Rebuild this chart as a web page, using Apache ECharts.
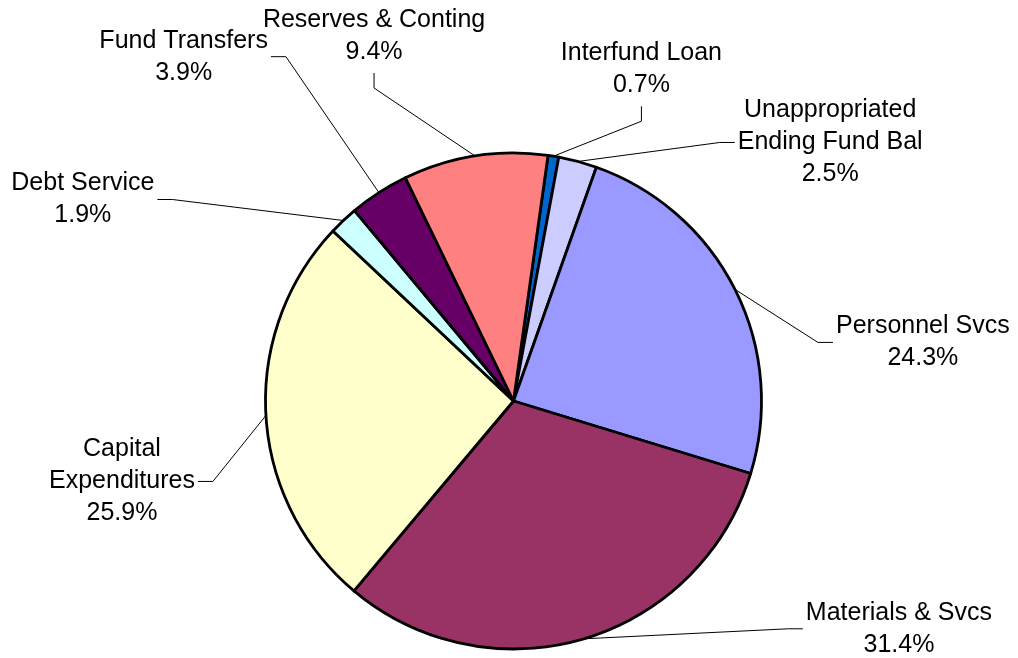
<!DOCTYPE html>
<html>
<head>
<meta charset="utf-8">
<script src="https://cdn.jsdelivr.net/npm/echarts@6/dist/echarts.min.js"></script>
<style>
html, body { margin: 0; padding: 0; background: #fff; }
#chart { width: 1018px; height: 658px; }
</style>
</head>
<body>
<div id="chart"></div>
<script>
// ---- data ----
var categories = [
  'Interfund Loan',
  'Unappropriated\nEnding Fund Bal',
  'Personnel Svcs',
  'Materials & Svcs',
  'Capital\nExpenditures',
  'Debt Service',
  'Fund Transfers',
  'Reserves & Conting'
];
var values = [0.7, 2.5, 24.3, 31.4, 25.9, 1.9, 3.9, 9.4];
var colors = ['#0066CC', '#CCCCFF', '#9999FF', '#993366', '#FFFFCC', '#CCFFFF', '#660066', '#FF8080'];

// ---- label placement (leader bend offset from slice arc midpoint, attach side) ----
var labelSpec = [
  { bend: [88, -35], side: 'up' },
  { bend: [142, -19], side: 'right' },
  { bend: [83, 53], side: 'right' },
  { bend: [204, -10], side: 'right' },
  { bend: [-53, 66], side: 'left' },
  { bend: [-171, -21], side: 'left' },
  { bend: [-93, -136], side: 'left' },
  { bend: [-101, -68], side: 'up' }
];
var SEG = 15;

var chart = echarts.init(document.getElementById('chart'), null, { renderer: 'canvas' });

var data = categories.map(function (c, i) {
  return { name: c, value: values[i], itemStyle: { color: colors[i] } };
});

chart.setOption({
  animation: false,
  backgroundColor: '#ffffff',
  series: [{
    type: 'pie',
    center: [513.5, 401],
    radius: [0, 248],
    startAngle: 82,
    clockwise: true,
    avoidLabelOverlap: false,
    silent: true,
    data: data,
    itemStyle: { borderColor: '#000000', borderWidth: 2.8 },
    label: {
      show: true,
      position: 'outside',
      color: '#000',
      fontFamily: 'Liberation Sans, Arial, sans-serif',
      fontSize: 25,
      lineHeight: 32,
      formatter: function (p) {
        var lines = p.name.split('\n');
        lines.push(p.value.toFixed(1) + '%');
        return lines.map(function (l) { return '{c|' + l + '}'; }).join('\n');
      },
      rich: {
        c: {
          align: 'center',
          color: '#000',
          fontFamily: 'Liberation Sans, Arial, sans-serif',
          fontSize: 25,
          lineHeight: 32
        }
      }
    },
    labelLine: {
      show: true,
      length: 20,
      length2: 15,
      lineStyle: { color: '#000', width: 1 }
    },
    labelLayout: function (params) {
      var i = params.dataIndex;
      var pts = params.labelLinePoints;
      if (!pts) return {};
      var m = pts[0];
      var s = labelSpec[i];
      var b = [m[0] + s.bend[0], m[1] + s.bend[1]];
      var a, res;
      if (s.side === 'up') {
        a = [b[0], b[1] - SEG];
        res = { x: a[0], y: a[1] - 5, align: 'center', verticalAlign: 'bottom' };
      } else if (s.side === 'right') {
        a = [b[0] + SEG, b[1]];
        res = { x: a[0] + 3, y: a[1], align: 'left', verticalAlign: 'middle' };
      } else {
        a = [b[0] - SEG, b[1]];
        res = { x: a[0] - 3, y: a[1], align: 'right', verticalAlign: 'middle' };
      }
      res.labelLinePoints = [m, b, a];
      return res;
    }
  }]
});
</script>
</body>
</html>
